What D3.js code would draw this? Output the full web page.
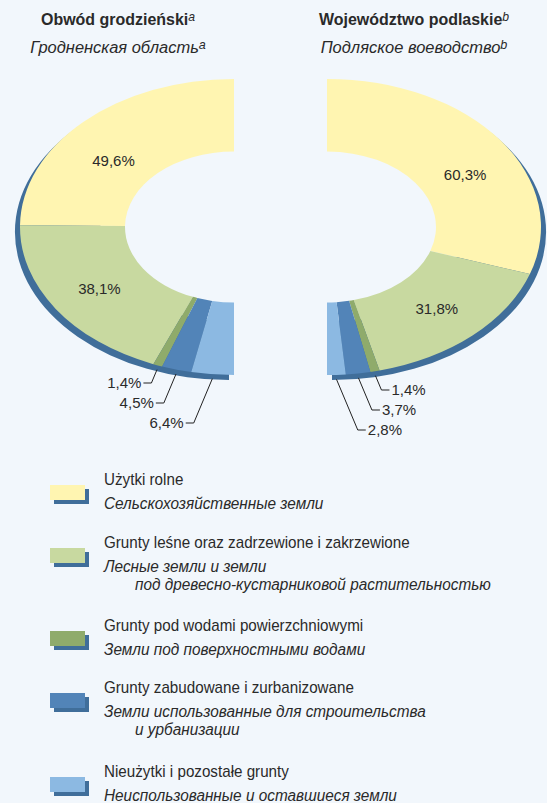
<!DOCTYPE html>
<html><head><meta charset="utf-8">
<script src="https://cdn.jsdelivr.net/npm/d3@7"></script>
<style>
html,body{margin:0;padding:0;background:#f2f7fc;}
svg{display:block;font-family:"Liberation Sans",Arial,sans-serif;}
</style></head><body>
<svg id="c" width="547" height="803"></svg>
<script>
// ---- data ----
const categories = ["Użytki rolne","Grunty leśne oraz zadrzewione i zakrzewione","Grunty pod wodami powierzchniowymi","Grunty zabudowane i zurbanizowane","Nieużytki i pozostałe grunty"];
const categoriesRu = [["Сельскохозяйственные земли"],["Лесные земли и земли","под древесно-кустарниковой растительностью"],["Земли под поверхностными водами"],["Земли использованные для строительства","и урбанизации"],["Неиспользованные и оставшиеся земли"]];
const grodnoValues = [49.6, 38.1, 1.4, 4.5, 6.4];
const podlaskieValues = [60.3, 31.8, 1.4, 3.7, 2.8];
const titlesPl = ["Obwód grodzieński","Województwo podlaskie"];
const titlesRu = ["Гродненская область","Подляское воеводство"];
const notes = ["a","b"];
const colors = ["#fff5b1","#c8d9a0","#8fab6b","#5284b8","#8cb9e2"];
const shadowColor = "#406e9a";
const textColor = "#2a2a2a";

const svg = d3.select("#c");
const fmt = v => d3.format(".1f")(v).replace(".", ",") + "%";

function txt(x, y, size, sx, opts = {}) {
  const t = svg.append("text")
    .attr("transform", `translate(${x},${y}) scale(${sx},1)`)
    .attr("font-size", size).attr("fill", textColor)
    .attr("text-anchor", opts.anchor || "start");
  if (opts.bold) t.attr("font-weight", "bold");
  if (opts.italic) t.attr("font-style", "italic");
  return t;
}

const R = 214, r0 = 109, sy = 0.692;
const arc = d3.arc().innerRadius(r0).outerRadius(R);
const shadowArc = d3.arc().innerRadius(r0 + 20).outerRadius(R);

const charts = [
  {values: grodnoValues, cx: 234, cy: 227, dir: -1, shadowDx: -5, tx: 118, firstBase: 388},
  {values: podlaskieValues, cx: 327, cy: 227, dir: 1, shadowDx: 5, tx: 414, firstBase: 395}
];

charts.forEach((ch, ci) => {
  const pie = d3.pie().sort(null).value(d => d).startAngle(0).endAngle(ch.dir * Math.PI);
  const arcs = pie(ch.values);
  // shadow
  svg.append("path")
    .attr("transform", `translate(${ch.cx + ch.shadowDx},${ch.cy + 5}) scale(1,${sy})`)
    .attr("d", shadowArc({startAngle: 0, endAngle: ch.dir * Math.PI}))
    .attr("fill", shadowColor);
  const g = svg.append("g").attr("transform", `translate(${ch.cx},${ch.cy}) scale(1,${sy})`);
  g.selectAll("path").data(arcs).join("path")
    .attr("d", arc).attr("fill", (d, i) => colors[i]);

  // big labels
  arcs.forEach((a, i) => {
    if (ch.values[i] < 10) return;
    const c = arc.centroid(a);
    let x = ch.cx + c[0], y = ch.cy + c[1] * sy;
    if (i === 0) { x += ch.dir * 7; y += 13; }
    txt(x, y + 5.5, 15.5, 0.97, {anchor: "middle"}).text(fmt(ch.values[i]));
  });

  // small labels with leaders
  let k = 0;
  arcs.forEach((a, i) => {
    if (ch.values[i] >= 10) return;
    const mid = (a.startAngle + a.endAngle) / 2;
    const sx = ch.cx + (R + 2) * Math.sin(mid);
    const syy = ch.cy - (R + 2) * Math.cos(mid) * sy + 3;
    const base = ch.firstBase + k * 20;
    const ey = base - 5;
    const ex = sx + ch.dir * 0.42 * (ey - syy);
    const hx = ex + ch.dir * 8;
    svg.append("path")
      .attr("d", `M${sx},${syy}L${ex},${ey}L${hx},${ey}`)
      .attr("fill", "none").attr("stroke", "#222").attr("stroke-width", 1);
    txt(hx + ch.dir * 2, base, 15.5, 0.97, {anchor: ch.dir < 0 ? "end" : "start"}).text(fmt(ch.values[i]));
    k++;
  });

  // titles
  const t1 = txt(ch.tx, 25, 17, 0.94, {anchor: "middle", bold: true});
  t1.append("tspan").text(titlesPl[ci]);
  t1.append("tspan").attr("font-size", 13).attr("font-style", "italic").attr("font-weight", "normal").attr("dy", -4).text(notes[ci]);
  const t2 = txt(ch.tx, 53, 17, 0.97, {anchor: "middle", italic: true});
  t2.append("tspan").text(titlesRu[ci]);
  t2.append("tspan").attr("font-size", 13).attr("dy", -4).text(notes[ci]);
});

// legend
const legendTop = [485, 548, 631, 693, 777];
categories.forEach((c, i) => {
  const y0 = legendTop[i];
  svg.append("rect").attr("x", 54).attr("y", y0 + 4).attr("width", 35).attr("height", 15).attr("fill", shadowColor);
  svg.append("rect").attr("x", 50).attr("y", y0).attr("width", 35).attr("height", 15).attr("fill", colors[i]);
  txt(104, y0, 16, 0.95).text(c);
  categoriesRu[i].forEach((line, j) => {
    txt(j === 0 ? 104 : 135, y0 + 24 + j * 18, 16, 0.96, {italic: true}).text(line);
  });
});
</script>
</body></html>
